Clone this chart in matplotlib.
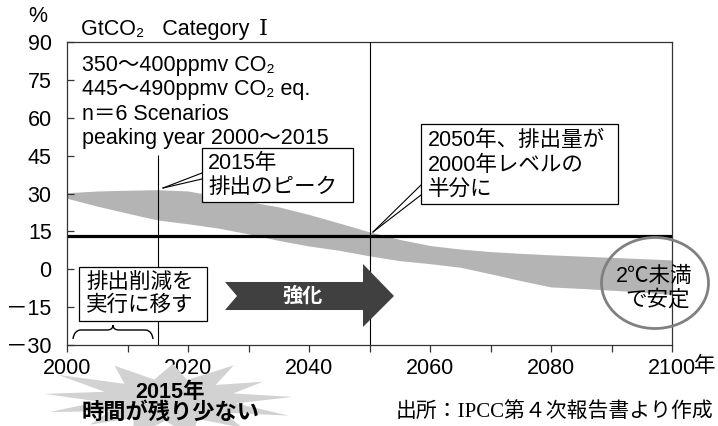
import numpy as np
import matplotlib
matplotlib.use("Agg")
import matplotlib.pyplot as plt
from matplotlib.patches import Rectangle, Polygon, Ellipse, PathPatch
from matplotlib.path import Path
from matplotlib.lines import Line2D
from matplotlib.transforms import Affine2D

plt.rcParams["font.family"] = ["Liberation Sans", "Noto Sans CJK JP", "DejaVu Sans"]

# ── Data ────────────────────────────────────────────────────────
years = [2000, 2005, 2010, 2015, 2020, 2025, 2030, 2035, 2040, 2045, 2050,
         2055, 2060, 2065, 2070, 2075, 2080, 2085, 2090, 2095, 2100]
band_upper = [30.3, 31.0, 31.3, 31.5, 31.0, 28.8, 26.8, 24.7, 21.7, 18.3, 14.8,
              11.8, 9.4, 8.0, 7.0, 6.3, 5.7, 5.2, 4.7, 4.2, 3.7]
band_lower = [28.1, 25.0, 22.2, 19.5, 18.0, 16.3, 14.0, 11.4, 9.2, 7.5, 5.3,
              3.4, 2.2, 0.8, -1.8, -4.5, -7.0, -7.6, -8.3, -9.0, -10.0]
half_level = 13          # half of the 2000 emission level
peak_year = 2015
target_year = 2050

x_ticks = [2000, 2020, 2040, 2060, 2080, 2100]
x_labels = ["2000", "2020", "2040", "2060", "2080", "2100"]
y_ticks = [-30, -15, 0, 15, 30, 45, 60, 75, 90]
y_labels = ["－30", "－15", "0", "15", "30", "45", "60", "75", "90"]

FS = 15.5  # base font size

W, H = 718, 426
fig = plt.figure(figsize=(W / 100, H / 100), dpi=100)
fig.patch.set_facecolor("white")
ax = fig.add_axes([67 / W, 1 - 345 / H, (672 - 67) / W, (345 - 42) / H])

# pixel coordinates (top-left origin) -> figure
T = Affine2D().scale(1 / W, -1 / H).translate(0, 1) + fig.transFigure


def txt(x, y, s, **kw):
    return fig.text(x / W, 1 - y / H, s, **kw)


# ── Main plot ───────────────────────────────────────────────────
ax.fill_between(years, band_lower, band_upper, color="#b4b4b4", lw=0, zorder=1)
ax.axhline(half_level, color="black", lw=2.3, zorder=2)
ax.vlines(peak_year, -30, 45.3, color="black", lw=0.8, zorder=3)
ax.axvline(target_year, color="black", lw=0.8, zorder=3)

ax.set_xlim(2000, 2100)
ax.set_ylim(-30, 90)
ax.set_xticks(x_ticks)
ax.set_xticklabels(x_labels)
ax.set_xticks(range(2010, 2100, 20), minor=True)
ax.set_yticks(y_ticks)
ax.set_yticklabels(y_labels)
ax.tick_params(axis="x", which="both", direction="out", length=5, width=0.9,
               color="#333333", labelsize=FS, pad=4)
ax.tick_params(axis="y", direction="in", length=5, width=0.9,
               color="#333333", labelsize=FS, pad=11)
for sp in ax.spines.values():
    sp.set_linewidth(0.9)
    sp.set_color("#333333")

txt(694, 366, "年", fontsize=FS, ha="left", va="center")
txt(38, 16, "%", fontsize=FS, ha="center", va="center")
txt(81, 29, "GtCO₂   Category", fontsize=FS, ha="left", va="center")
txt(259, 29, "Ⅰ", fontsize=FS + 1, family=["DejaVu Serif", "Noto Sans CJK JP"],
    ha="left", va="center")

# scenario description
info = ["350～400ppmv CO₂", "445～490ppmv CO₂ eq.", "n＝6 Scenarios",
        "peaking year 2000～2015"]
for i, line in enumerate(info):
    txt(82, 71 + 24.4 * i, line, fontsize=FS, ha="left", va="baseline")

# ── Callout boxes ───────────────────────────────────────────────
def callout(x0, y0, x1, y1, lines, tx, ty, dy, wedge=None, fs=FS):
    fig.add_artist(Rectangle((x0, y0), x1 - x0, y1 - y0, transform=T,
                             facecolor="white", edgecolor="black", lw=0.9,
                             zorder=5))
    for i, s in enumerate(lines):
        txt(tx, ty + dy * i, s, fontsize=fs, ha="left", va="center", zorder=6)
    if wedge:
        (ax_, ay1, ay2), (bx, by) = wedge
        for ay in (ay1, ay2):
            fig.add_artist(Line2D([ax_, bx], [ay, by], transform=T,
                                  color="black", lw=0.8, zorder=5))


callout(202, 148, 353, 202, ["2015年", "排出のピーク"], 208, 163, 25,
        wedge=((202, 173, 179), (163, 188)))
callout(421, 124, 618, 204, ["2050年、排出量が", "2000年レベルの", "半分に"],
        428, 141, 24.5, wedge=((421, 185, 195), (373, 232)))
callout(79, 267, 207, 321, ["排出削減を", "実行に移す"], 86, 283, 22.5)

# brace under the action box
bv = [(73, 339), (74, 331), (80, 330), (107, 330), (113, 330), (113, 325),
      (113, 330), (119, 330), (146, 330), (152, 331), (153, 339)]
bc = [Path.MOVETO, Path.CURVE3, Path.CURVE3, Path.LINETO, Path.CURVE3,
      Path.CURVE3, Path.CURVE3, Path.CURVE3, Path.LINETO, Path.CURVE3,
      Path.CURVE3]
fig.add_artist(PathPatch(Path(bv, bc), transform=T, facecolor="none",
                         edgecolor="black", lw=1.0, zorder=5))

# "強化" arrow
arrow = [(225, 282), (363, 282), (363, 264), (394, 296), (363, 327),
         (363, 310), (225, 310), (237, 296)]
fig.add_artist(Polygon(arrow, closed=True, transform=T, facecolor="#404040",
                       edgecolor="none", zorder=4))
txt(302, 296, "強化", fontsize=FS - 1, color="white", fontweight="bold",
    ha="center", va="center", zorder=6)

# 2°C circle
fig.add_artist(Ellipse((655, 283), 107, 91, transform=T, facecolor="none",
                       edgecolor="#808080", lw=2.0, zorder=5))
txt(654, 276, "2℃未満", fontsize=FS, ha="center", va="center", zorder=6)
txt(658, 300, "で安定", fontsize=FS, ha="center", va="center", zorder=6)

# starburst
n = 26
ang = np.linspace(0, 2 * np.pi, n, endpoint=False) + 0.08
rad = np.where(np.arange(n) % 2 == 0, 1.0, 0.55)
rad = rad * np.array([1.0, 1, 0.9, 1, 1.05, 1, 0.95, 1, 1.0, 1, 1.1, 1, 1.0,
                      1, 1.0, 1, 0.9, 1, 1.0, 1, 1.0, 1, 0.95, 1, 1.05, 1])
sx = 168 + 125 * rad * np.cos(ang)
sy = 400 - 38 * rad * np.sin(ang)
fig.add_artist(Polygon(np.column_stack([sx, sy]), closed=True, transform=T,
                       facecolor="#d2d2d2", edgecolor="none", zorder=1))
txt(170, 392, "2015年", fontsize=FS, fontweight="bold", ha="center",
    va="center", zorder=6)
txt(171, 413, "時間が残り少ない", fontsize=FS + 0.5, fontweight="bold",
    ha="center", va="center", zorder=6)

txt(713, 412, "出所：IPCC第４次報告書より作成", fontsize=15,
    family=["Liberation Serif", "Noto Sans CJK JP"], ha="right", va="center")

fig.savefig("out.png", dpi=100, facecolor="white")
